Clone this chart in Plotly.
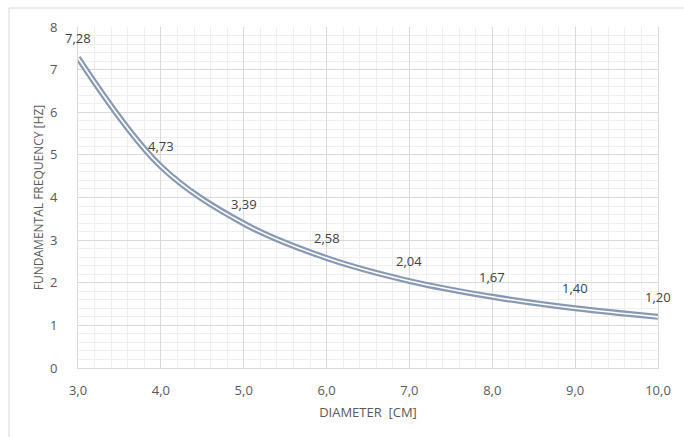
import plotly.graph_objects as go

diameter = [3.0, 4.0, 5.0, 6.0, 7.0, 8.0, 9.0, 10.0]
frequency = [7.28, 4.73, 3.39, 2.58, 2.04, 1.67, 1.40, 1.20]
labels = ["7,28", "4,73", "3,39", "2,58", "2,04", "1,67", "1,40", "1,20"]
x_ticks = [3, 4, 5, 6, 7, 8, 9, 10]
y_ticks = [0, 1, 2, 3, 4, 5, 6, 7, 8]

FONT = "Open Sans, Liberation Sans, sans-serif"

fig = go.Figure()
fig.add_trace(go.Scatter(
    x=diameter, y=frequency, mode="lines",
    line=dict(color="#889ab3", width=6, shape="spline", smoothing=1.0),
    hoverinfo="skip", showlegend=False))
fig.add_trace(go.Scatter(
    x=diameter, y=frequency, mode="lines",
    line=dict(color="#ffffff", width=1.6, shape="spline", smoothing=1.0),
    hoverinfo="skip", showlegend=False))

for xv, yv, t in zip(diameter, frequency, labels):
    fig.add_annotation(x=xv, y=yv, text=t, showarrow=False, yshift=20,
                       font=dict(family=FONT, size=13, color="#404040"))

axis_font = dict(family=FONT, size=13, color="#595959")

fig.update_layout(
    width=684, height=437,
    margin=dict(l=78, r=26, t=27, b=69),
    paper_bgcolor="white", plot_bgcolor="white",
    separators=", ",
    xaxis=dict(
        range=[3, 10], tickvals=x_ticks, tickformat=".1f",
        showgrid=True, gridcolor="#d9d9d9", gridwidth=1,
        minor=dict(dtick=0.2, showgrid=True, gridcolor="#efefef", gridwidth=1),
        zeroline=False, showline=True, linecolor="#d9d9d9",
        ticks="", tickfont=axis_font, ticklabelstandoff=10,
        title=dict(text="DIAMETER\u00a0\u00a0[CM]", font=dict(family=FONT, size=13, color="#595959"), standoff=10),
    ),
    yaxis=dict(
        range=[0, 8], tickvals=y_ticks,
        showgrid=True, gridcolor="#d9d9d9", gridwidth=1,
        minor=dict(dtick=0.2, showgrid=True, gridcolor="#efefef", gridwidth=1),
        zeroline=False, showline=True, linecolor="#d9d9d9", mirror=True,
        ticks="", tickfont=axis_font, ticklabelstandoff=17,
        title=dict(text="FUNDAMENTAL FREQUENCY [HZ]", font=dict(family=FONT, size=12, color="#595959"), standoff=3),
    ),
    shapes=[
        dict(type="line", xref="paper", yref="paper",
             x0=(9 - 78) / 580, x1=(700 - 78) / 580,
             y0=(368 - 8) / 341, y1=(368 - 8) / 341,
             line=dict(color="#d9d9d9", width=1)),
        dict(type="line", xref="paper", yref="paper",
             x0=(9 - 78) / 580, x1=(9 - 78) / 580,
             y0=(368 - 8) / 341, y1=(368 - 450) / 341,
             line=dict(color="#d9d9d9", width=1)),
    ],
)

fig.write_html("out.html", config={"displayModeBar": False},
               post_script="document.body.style.margin='0';document.body.style.overflow='hidden';")
